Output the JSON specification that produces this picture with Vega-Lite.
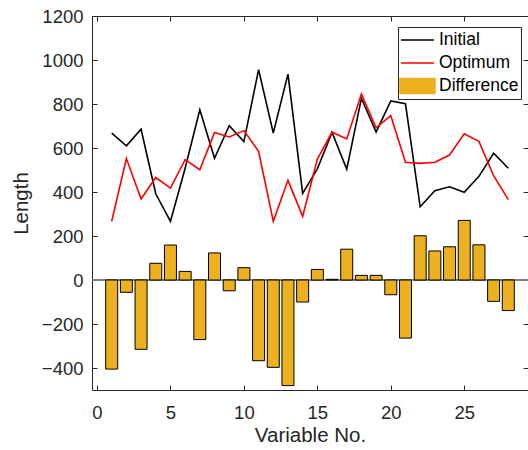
{
  "$schema": "https://vega.github.io/schema/vega-lite/v6.json",
  "width": 436,
  "height": 374,
  "autosize": "none",
  "padding": {"left": 92, "top": 16, "right": 0, "bottom": 60},
  "background": "white",
  "view": {"stroke": null},
  "config": {
    "font": "Liberation Sans",
    "axis": {
      "domainColor": "#262626", "tickColor": "#262626", "labelColor": "#262626", "titleColor": "#262626",
      "labelFont": "Liberation Sans", "titleFont": "Liberation Sans",
      "labelFontSize": 18.5, "titleFontSize": 20.5, "titleFontWeight": "normal",
      "grid": false, "tickSize": -5, "domainWidth": 1, "tickWidth": 1, "format": "d"
    }
  },
  "data": {"values": [
    {"x": 1, "series": "Initial", "value": 668}, {"x": 2, "series": "Initial", "value": 610},
    {"x": 3, "series": "Initial", "value": 685}, {"x": 4, "series": "Initial", "value": 392},
    {"x": 5, "series": "Initial", "value": 267}, {"x": 6, "series": "Initial", "value": 508},
    {"x": 7, "series": "Initial", "value": 774}, {"x": 8, "series": "Initial", "value": 553},
    {"x": 9, "series": "Initial", "value": 701}, {"x": 10, "series": "Initial", "value": 629},
    {"x": 11, "series": "Initial", "value": 956}, {"x": 12, "series": "Initial", "value": 668},
    {"x": 13, "series": "Initial", "value": 936}, {"x": 14, "series": "Initial", "value": 394},
    {"x": 15, "series": "Initial", "value": 505}, {"x": 16, "series": "Initial", "value": 671},
    {"x": 17, "series": "Initial", "value": 504}, {"x": 18, "series": "Initial", "value": 826},
    {"x": 19, "series": "Initial", "value": 672}, {"x": 20, "series": "Initial", "value": 814},
    {"x": 21, "series": "Initial", "value": 801}, {"x": 22, "series": "Initial", "value": 333},
    {"x": 23, "series": "Initial", "value": 406}, {"x": 24, "series": "Initial", "value": 424},
    {"x": 25, "series": "Initial", "value": 399}, {"x": 26, "series": "Initial", "value": 471},
    {"x": 27, "series": "Initial", "value": 576}, {"x": 28, "series": "Initial", "value": 508},
    {"x": 1, "series": "Optimum", "value": 267}, {"x": 2, "series": "Optimum", "value": 552},
    {"x": 3, "series": "Optimum", "value": 368}, {"x": 4, "series": "Optimum", "value": 466},
    {"x": 5, "series": "Optimum", "value": 418}, {"x": 6, "series": "Optimum", "value": 547},
    {"x": 7, "series": "Optimum", "value": 501}, {"x": 8, "series": "Optimum", "value": 670},
    {"x": 9, "series": "Optimum", "value": 650}, {"x": 10, "series": "Optimum", "value": 679},
    {"x": 11, "series": "Optimum", "value": 585}, {"x": 12, "series": "Optimum", "value": 267},
    {"x": 13, "series": "Optimum", "value": 453}, {"x": 14, "series": "Optimum", "value": 289},
    {"x": 15, "series": "Optimum", "value": 550}, {"x": 16, "series": "Optimum", "value": 672},
    {"x": 17, "series": "Optimum", "value": 641}, {"x": 18, "series": "Optimum", "value": 845},
    {"x": 19, "series": "Optimum", "value": 692}, {"x": 20, "series": "Optimum", "value": 747},
    {"x": 21, "series": "Optimum", "value": 535}, {"x": 22, "series": "Optimum", "value": 530},
    {"x": 23, "series": "Optimum", "value": 535}, {"x": 24, "series": "Optimum", "value": 568},
    {"x": 25, "series": "Optimum", "value": 665}, {"x": 26, "series": "Optimum", "value": 630},
    {"x": 27, "series": "Optimum", "value": 474}, {"x": 28, "series": "Optimum", "value": 365},
    {"x": 1, "series": "Difference", "value": -405}, {"x": 2, "series": "Difference", "value": -56},
    {"x": 3, "series": "Difference", "value": -315}, {"x": 4, "series": "Difference", "value": 76},
    {"x": 5, "series": "Difference", "value": 159}, {"x": 6, "series": "Difference", "value": 39},
    {"x": 7, "series": "Difference", "value": -271}, {"x": 8, "series": "Difference", "value": 123},
    {"x": 9, "series": "Difference", "value": -49}, {"x": 10, "series": "Difference", "value": 56},
    {"x": 11, "series": "Difference", "value": -367}, {"x": 12, "series": "Difference", "value": -397},
    {"x": 13, "series": "Difference", "value": -480}, {"x": 14, "series": "Difference", "value": -100},
    {"x": 15, "series": "Difference", "value": 48}, {"x": 16, "series": "Difference", "value": 3},
    {"x": 17, "series": "Difference", "value": 140}, {"x": 18, "series": "Difference", "value": 21},
    {"x": 19, "series": "Difference", "value": 21}, {"x": 20, "series": "Difference", "value": -67},
    {"x": 21, "series": "Difference", "value": -264}, {"x": 22, "series": "Difference", "value": 201},
    {"x": 23, "series": "Difference", "value": 132}, {"x": 24, "series": "Difference", "value": 151},
    {"x": 25, "series": "Difference", "value": 271}, {"x": 26, "series": "Difference", "value": 160},
    {"x": 27, "series": "Difference", "value": -97}, {"x": 28, "series": "Difference", "value": -139}
  ]},
  "resolve": {"axis": {"x": "independent", "y": "independent"}},
  "layer": [
    {
      "mark": {"type": "rule", "color": "#7f7f7f", "strokeWidth": 1},
      "encoding": {
        "y": {"datum": 0, "type": "quantitative", "scale": {"domain": [-500, 1200]}, "axis": null}
      }
    },
    {
      "transform": [{"filter": "datum.series === 'Difference'"}],
      "mark": {"type": "bar", "size": 12, "stroke": "black", "strokeWidth": 1},
      "encoding": {
        "x": {"field": "x", "type": "quantitative", "scale": {"domain": [0, 29], "nice": false, "zero": false},
              "axis": {"orient": "bottom", "values": [0, 5, 10, 15, 20, 25], "title": "Variable No.", "labelPadding": 18, "titlePadding": 4}},
        "y": {"field": "value", "type": "quantitative", "scale": {"domain": [-500, 1200], "nice": false},
              "axis": {"orient": "left", "values": [-400, -200, 0, 200, 400, 600, 800, 1000, 1200], "title": "Length", "labelPadding": 14, "titlePadding": 10}},
        "color": {"field": "series", "type": "nominal",
          "scale": {"domain": ["Initial", "Optimum", "Difference"], "range": ["black", "#ff0000", "#EDB120"]},
          "legend": {
            "orient": "none", "legendX": 306, "legendY": 11, "title": null,
            "symbolSize": 400, "symbolStrokeWidth": 1.5, "symbolOpacity": 1, "symbolOffset": 6.5,
            "symbolType": {"expr": "datum.value === 'Difference' ? 'M-1.75,-0.75H1.75V0.75H-1.75Z' : 'M-1.65,0H1.65'"},
            "labelFont": "Liberation Sans", "labelFontSize": 17.5, "labelColor": "black",
            "labelOffset": 10.5, "rowPadding": 3, "strokeColor": "#262626", "fillColor": "white", "padding": 2
          }
        }
      }
    },
    {
      "transform": [{"filter": "datum.series !== 'Difference'"}],
      "mark": {"type": "line", "strokeWidth": 1.6},
      "encoding": {
        "x": {"field": "x", "type": "quantitative", "axis": {"orient": "top", "values": [0, 5, 10, 15, 20, 25], "labels": false, "title": null}},
        "y": {"field": "value", "type": "quantitative", "axis": {"orient": "right", "values": [-400, -200, 0, 200, 400, 600, 800, 1000, 1200], "labels": false, "title": null}},
        "color": {"field": "series", "type": "nominal"},
        "detail": {"field": "series"}
      }
    }
  ]
}
